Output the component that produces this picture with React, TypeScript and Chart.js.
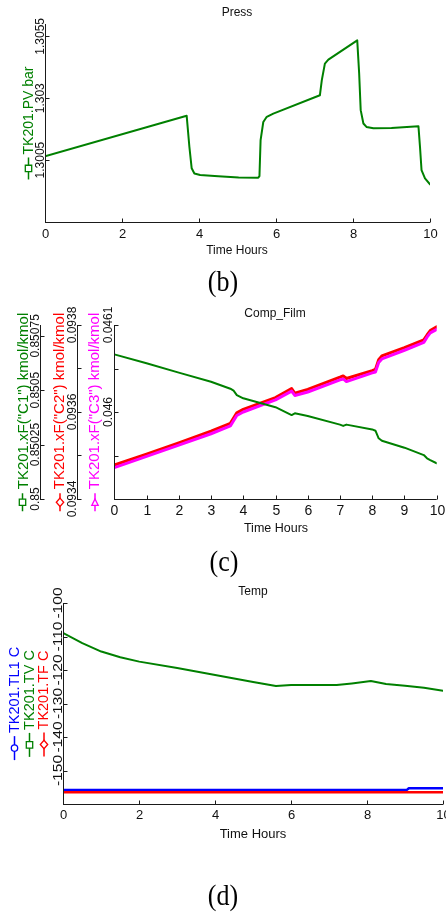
import { useEffect, useRef } from 'react';
import { Chart, registerables } from 'chart.js';

Chart.register(...registerables);

const W = 446;
const H = 913;
const SANS = '"Liberation Sans", Arial, sans-serif';
const SERIF = '"Liberation Serif", "Times New Roman", serif';
const AXIS = '#1a1a1a';
const GREEN = 'rgb(0,128,0)';
const RED = 'rgb(255,0,0)';
const MAGENTA = 'rgb(255,0,255)';
const BLUE = 'rgb(0,0,255)';

// ---------- (b) Press ----------
const pressTime = [0, 3.68, 3.75, 3.81, 3.88, 4.03, 4.5, 5.03, 5.54, 5.57, 5.6, 5.67, 5.76, 5.93, 7.14, 7.19, 7.27, 7.36, 8.11, 8.16, 8.2, 8.27, 8.35, 8.53, 9.0, 9.7, 9.74, 9.78, 9.87, 10];
const pressBar = [1.30066, 1.30229, 1.30104, 1.30017, 1.29996, 1.2999, 1.29985, 1.2998, 1.29979, 1.29985, 1.30131, 1.30204, 1.30225, 1.30238, 1.30312, 1.30373, 1.3044, 1.30456, 1.30534, 1.304, 1.30252, 1.30198, 1.30184, 1.30179, 1.3018, 1.30187, 1.30104, 1.3001, 1.29976, 1.29952];
const pressTicks = [1.3005, 1.303, 1.3055];
const pressTickLabels = ['1.3005', '1.303', '1.3055'];
const pressXTicks = [0, 2, 4, 6, 8, 10];

// ---------- (c) Comp_Film ----------
const compTime = [0, 1, 2, 3, 3.6, 3.7, 3.8, 4, 5, 5.5, 5.6, 6, 7, 7.1, 7.2, 8, 8.1, 8.2, 8.3, 9, 9.6, 9.7, 9.8, 10];
const c1Values = [0.850665, 0.850624, 0.850581, 0.850539, 0.850507, 0.850498, 0.850478, 0.850463, 0.850422, 0.850386, 0.850394, 0.850382, 0.850342, 0.850336, 0.850342, 0.85032, 0.850314, 0.850279, 0.850268, 0.850236, 0.850202, 0.850187, 0.850179, 0.850164];
const c2Values = [0.093478, 0.093503, 0.093529, 0.093556, 0.093574, 0.093586, 0.093598, 0.093606, 0.093633, 0.093654, 0.093643, 0.093652, 0.09368, 0.093683, 0.093677, 0.093695, 0.093698, 0.09372, 0.093729, 0.093748, 0.093766, 0.093777, 0.093787, 0.093796];
const c3Values = [0.045936, 0.045949, 0.045962, 0.045975, 0.045984, 0.04599, 0.045996, 0.046, 0.046014, 0.046024, 0.046019, 0.046023, 0.046037, 0.046038, 0.046035, 0.046045, 0.046046, 0.046057, 0.046061, 0.046071, 0.04608, 0.046086, 0.046091, 0.046095];
const c1Ticks = [0.85, 0.85025, 0.8505, 0.85075];
const c1Labels = ['0.85', '0.85025', '0.8505', '0.85075'];
const c2Ticks = [0.0934, 0.0935, 0.0936, 0.0937, 0.0938];
const c2LabelValues = [0.0934, 0.0936, 0.0938];
const c2Labels = ['0.0934', '0.0936', '0.0938'];
const c3Ticks = [0.0459, 0.04595, 0.046, 0.04605, 0.0461];
const c3LabelValues = [0.046, 0.0461];
const c3Labels = ['0.046', '0.0461'];
const compXTicks = [0, 1, 2, 3, 4, 5, 6, 7, 8, 9, 10];

// ---------- (d) Temp ----------
const tempTime = [0, 0.5, 1, 1.5, 2, 3, 4, 5, 5.6, 6, 7, 7.2, 7.6, 8.1, 8.5, 9, 9.5, 10];
const tvValues = [-109, -112, -114.5, -116.2, -117.5, -119.4, -121.5, -123.6, -124.8, -124.5, -124.5, -124.5, -124, -123.3, -124.2, -124.7, -125.3, -126.2];
const tl1Time = [0, 9.05, 9.1, 10];
const tl1Values = [-155.8, -155.8, -155.3, -155.3];
const tfTime = [0, 10];
const tfValues = [-156.5, -156.5];
const tempTicks = [-150, -140, -130, -120, -110, -100];
const tempLabels = ['-150', '-140', '-130', '-120', '-110', '-100'];
const tempXTicks = [0, 2, 4, 6, 8, 10];

type TitleSpec = {
  text: string; color: string; baseX: number; symX: number; symbol: string;
  font: number; stretch: number; symLen: number; gap: number;
};
type YAxisSpec = {
  id: string; x: number | null; ticks: number[]; labelValues: number[]; labelTexts: string[];
  labelBaseX: number; font: number; stretch: number; titles: TitleSpec[];
};
type PanelSpec = {
  title: string; titleX: number; titleY: number; titleFont: number;
  xTicks: number[]; xLabelY: number; xFont: number;
  xTitleX: number; xTitleY: number; xTitleFont: number;
  caption: string; captionX: number; captionY: number;
  yAxes: YAxisSpec[];
};

const pts = (xs: number[], ys: number[]) => xs.map((x, i) => ({ x, y: ys[i] }));

function rotText(ctx: CanvasRenderingContext2D, text: string, x: number, y: number, font: string, color: string, align: CanvasTextAlign, stretch: number) {
  ctx.save();
  ctx.translate(x, y);
  ctx.rotate(-Math.PI / 2);
  ctx.scale(stretch, 1);
  ctx.font = font;
  ctx.fillStyle = color;
  ctx.textAlign = align;
  ctx.textBaseline = 'alphabetic';
  ctx.fillText(text, 0, 0);
  ctx.restore();
}

function drawMarker(ctx: CanvasRenderingContext2D, kind: string, cx: number, cy: number, color: string) {
  ctx.save();
  ctx.fillStyle = '#fff';
  ctx.strokeStyle = color;
  ctx.lineWidth = 1.3;
  ctx.beginPath();
  const s = 3.2;
  if (kind === 'square') {
    ctx.rect(cx - s, cy - s, 2 * s, 2 * s);
  } else if (kind === 'diamond') {
    ctx.moveTo(cx, cy - s - 1); ctx.lineTo(cx + s + 0.5, cy); ctx.lineTo(cx, cy + s + 1); ctx.lineTo(cx - s - 0.5, cy); ctx.closePath();
  } else if (kind === 'circle') {
    ctx.arc(cx, cy, s, 0, Math.PI * 2);
  } else {
    ctx.moveTo(cx - s, cy + s); ctx.lineTo(cx + s, cy + s); ctx.lineTo(cx, cy - s); ctx.closePath();
  }
  ctx.fill();
  ctx.stroke();
  ctx.restore();
}

function makePlugin(p: PanelSpec) {
  return {
    id: 'customAxes',
    afterDraw(chart: any) {
      const ctx: CanvasRenderingContext2D = chart.ctx;
      const area = chart.chartArea;
      const xs = chart.scales.x;
      const crisp = (v: number) => Math.round(v) + 0.5;
      ctx.save();
      ctx.strokeStyle = AXIS;
      ctx.lineWidth = 1;
      // x axis
      const by = crisp(area.bottom);
      ctx.beginPath();
      ctx.moveTo(area.left, by);
      ctx.lineTo(area.right, by);
      ctx.stroke();
      ctx.font = `${p.xFont}px ${SANS}`;
      ctx.fillStyle = '#111';
      ctx.textAlign = 'center';
      ctx.textBaseline = 'middle';
      for (const t of p.xTicks) {
        const px = crisp(xs.getPixelForValue(t));
        ctx.beginPath();
        ctx.moveTo(px, by);
        ctx.lineTo(px, by - 4);
        ctx.stroke();
        ctx.fillText(String(t), px, p.xLabelY);
      }
      ctx.font = `${p.xTitleFont}px ${SANS}`;
      ctx.fillText('Time Hours', p.xTitleX, p.xTitleY);
      ctx.font = `12px ${SANS}`;
      ctx.fillText(p.title, p.titleX, p.titleY);
      // caption
      ctx.save();
      ctx.translate(p.captionX, p.captionY);
      ctx.scale(1, 1.15);
      ctx.font = `26px ${SERIF}`;
      ctx.fillStyle = '#000';
      ctx.fillText(p.caption, 0, 0);
      ctx.restore();

      // y axes
      for (const ya of p.yAxes) {
        const sc = chart.scales[ya.id];
        const ax = crisp(ya.x === null ? area.left : ya.x);
        const top = sc.getPixelForValue(sc.max);
        const bot = sc.getPixelForValue(sc.min);
        ctx.strokeStyle = AXIS;
        ctx.beginPath();
        ctx.moveTo(ax, Math.round(top));
        ctx.lineTo(ax, Math.round(bot) + 1);
        ctx.stroke();
        for (const t of ya.ticks) {
          const py = crisp(sc.getPixelForValue(t));
          ctx.beginPath();
          ctx.moveTo(ax, py);
          ctx.lineTo(ax + 4, py);
          ctx.stroke();
        }
        ya.labelValues.forEach((v, i) => {
          rotText(ctx, ya.labelTexts[i], ya.labelBaseX, sc.getPixelForValue(v), `${ya.font}px ${SANS}`, '#111', 'center', ya.stretch);
        });
        const mid = (top + bot) / 2;
        for (const tt of ya.titles) {
          const font = `${tt.font}px ${SANS}`;
          ctx.font = font;
          const tw = ctx.measureText(tt.text).width * tt.stretch;
          const total = tt.symLen + tt.gap + tw;
          const y0 = mid + total / 2;
          ctx.strokeStyle = tt.color;
          ctx.lineWidth = 1.5;
          ctx.beginPath();
          ctx.moveTo(tt.symX, y0);
          ctx.lineTo(tt.symX, y0 - tt.symLen);
          ctx.stroke();
          drawMarker(ctx, tt.symbol, tt.symX, y0 - tt.symLen / 2, tt.color);
          ctx.lineWidth = 1;
          rotText(ctx, tt.text, tt.baseX, y0 - tt.symLen - tt.gap, font, tt.color, 'left', tt.stretch);
        }
      }
      ctx.restore();
    },
  };
}

const panelB: PanelSpec = {
  title: 'Press', titleX: 237, titleY: 13, titleFont: 12,
  xTicks: pressXTicks, xLabelY: 234, xFont: 13,
  xTitleX: 237, xTitleY: 250.5, xTitleFont: 12,
  caption: '(b)', captionX: 223, captionY: 283,
  yAxes: [{
    id: 'y', x: null, ticks: pressTicks, labelValues: pressTicks, labelTexts: pressTickLabels,
    labelBaseX: 44, font: 12, stretch: 1,
    titles: [{ text: 'TK201.PV bar', color: GREEN, baseX: 33, symX: 28.5, symbol: 'square', font: 14, stretch: 1, symLen: 22, gap: 3 }],
  }],
};

const panelC: PanelSpec = {
  title: 'Comp_Film', titleX: 275, titleY: 314, titleFont: 12,
  xTicks: compXTicks, xLabelY: 511, xFont: 14,
  xTitleX: 276, xTitleY: 529, xTitleFont: 12.5,
  caption: '(c)', captionX: 224, captionY: 563,
  yAxes: [
    {
      id: 'y1', x: 40, ticks: c1Ticks, labelValues: c1Ticks, labelTexts: c1Labels,
      labelBaseX: 39, font: 12, stretch: 1,
      titles: [{ text: 'TK201.xF("C1") kmol/kmol', color: GREEN, baseX: 28, symX: 22.5, symbol: 'square', font: 15, stretch: 1, symLen: 18, gap: 4 }],
    },
    {
      id: 'y2', x: 77, ticks: c2Ticks, labelValues: c2LabelValues, labelTexts: c2Labels,
      labelBaseX: 76, font: 12, stretch: 1,
      titles: [{ text: 'TK201.xF("C2") kmol/kmol', color: RED, baseX: 64, symX: 60, symbol: 'diamond', font: 15, stretch: 1, symLen: 18, gap: 4 }],
    },
    {
      id: 'y3', x: null, ticks: c3Ticks, labelValues: c3LabelValues, labelTexts: c3Labels,
      labelBaseX: 112, font: 12, stretch: 1,
      titles: [{ text: 'TK201.xF("C3") kmol/kmol', color: MAGENTA, baseX: 99, symX: 95, symbol: 'triangle', font: 15, stretch: 1, symLen: 18, gap: 4 }],
    },
  ],
};

const panelD: PanelSpec = {
  title: 'Temp', titleX: 253, titleY: 592, titleFont: 12,
  xTicks: tempXTicks, xLabelY: 815, xFont: 13,
  xTitleX: 253, xTitleY: 834, xTitleFont: 13,
  caption: '(d)', captionX: 223, captionY: 897,
  yAxes: [{
    id: 'y', x: null, ticks: tempTicks, labelValues: tempTicks, labelTexts: tempLabels,
    labelBaseX: 61.5, font: 12, stretch: 1.3,
    titles: [
      { text: 'TK201.TL1 C', color: BLUE, baseX: 19, symX: 14.5, symbol: 'circle', font: 14.5, stretch: 1, symLen: 24, gap: 3 },
      { text: 'TK201.TV C', color: GREEN, baseX: 33.5, symX: 29.5, symbol: 'square', font: 14.5, stretch: 1, symLen: 24, gap: 3 },
      { text: 'TK201.TF C', color: RED, baseX: 48, symX: 44, symbol: 'diamond', font: 14.5, stretch: 1, symLen: 24, gap: 3 },
    ],
  }],
};

const hidden = { display: false };
const baseOptions = (padding: any, scales: any) => ({
  animation: false as const,
  responsive: false,
  events: [] as any[],
  layout: { padding },
  plugins: { legend: { display: false }, tooltip: { enabled: false }, title: { display: false } },
  elements: { point: { radius: 0 }, line: { tension: 0 } },
  scales,
});

function lineDs(data: any, color: string, width: number, yAxisID: string) {
  return { data, borderColor: color, borderWidth: width, pointRadius: 0, fill: false, yAxisID, borderCapStyle: 'round', borderJoinStyle: 'round' };
}

export default function App() {
  const refB = useRef<HTMLCanvasElement>(null);
  const refC = useRef<HTMLCanvasElement>(null);
  const refD = useRef<HTMLCanvasElement>(null);

  useEffect(() => {
    const charts: Chart[] = [];
    charts.push(new Chart(refB.current!, {
      type: 'line',
      data: { datasets: [lineDs(pts(pressTime, pressBar), GREEN, 2, 'y')] as any },
      options: baseOptions({ left: 45, top: 24, right: W - 430, bottom: H - 222 }, {
        x: { type: 'linear', min: 0, max: 10, ...hidden },
        y: { type: 'linear', min: 1.298, max: 1.306, ...hidden },
      }) as any,
      plugins: [makePlugin(panelB)],
    }));
    charts.push(new Chart(refC.current!, {
      type: 'line',
      data: {
        datasets: [
          lineDs(pts(compTime, c1Values), GREEN, 2, 'y1'),
          lineDs(pts(compTime, c3Values), MAGENTA, 3, 'y3'),
          lineDs(pts(compTime, c2Values), RED, 3, 'y2'),
        ] as any,
      },
      options: baseOptions({ left: 114.3, top: 325, right: W - 436.7, bottom: H - 499 }, {
        x: { type: 'linear', min: 0, max: 10, ...hidden },
        y1: { type: 'linear', min: 0.85, max: 0.8508, ...hidden },
        y2: { type: 'linear', min: 0.0934, max: 0.0938, ...hidden },
        y3: { type: 'linear', min: 0.0459, max: 0.0461, ...hidden },
      }) as any,
      plugins: [makePlugin(panelC)],
    }));
    charts.push(new Chart(refD.current!, {
      type: 'line',
      data: {
        datasets: [
          lineDs(pts(tempTime, tvValues), GREEN, 2, 'y'),
          lineDs(pts(tfTime, tfValues), RED, 2.5, 'y'),
          lineDs(pts(tl1Time, tl1Values), BLUE, 2.5, 'y'),
        ] as any,
      },
      options: baseOptions({ left: 63.3, top: 603, right: W - 443, bottom: H - 804 }, {
        x: { type: 'linear', min: 0, max: 10, ...hidden },
        y: { type: 'linear', min: -160, max: -100, ...hidden },
      }) as any,
      plugins: [makePlugin(panelD)],
    }));
    return () => charts.forEach((c) => c.destroy());
  }, []);

  const cs: any = { position: 'absolute', left: 0, top: 0, width: W, height: H };
  return (
    <div style={{ position: 'absolute', left: 0, top: 0, width: W, height: H, overflow: 'hidden', background: '#fff' }}>
      <canvas ref={refB} width={W} height={H} style={cs} />
      <canvas ref={refC} width={W} height={H} style={cs} />
      <canvas ref={refD} width={W} height={H} style={cs} />
    </div>
  );
}
